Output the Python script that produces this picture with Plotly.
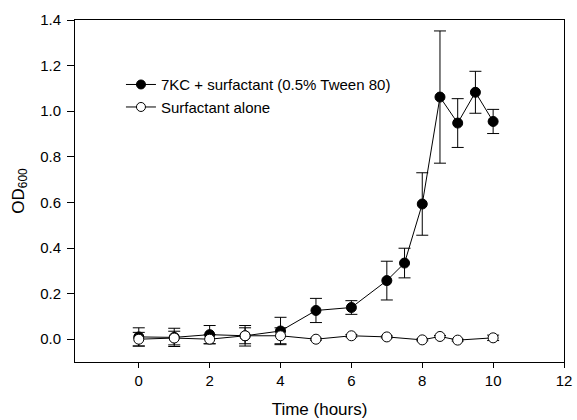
import plotly.graph_objects as go

time_kc = [0, 1, 2, 3, 4, 5, 6, 7, 7.5, 8, 8.5, 9, 9.5, 10]
od_kc = [0.01, 0.008, 0.02, 0.015, 0.036, 0.126, 0.139, 0.257, 0.334, 0.593, 1.062, 0.948, 1.083, 0.955]
err_kc = [0.04, 0.04, 0.04, 0.045, 0.06, 0.053, 0.03, 0.085, 0.065, 0.137, 0.29, 0.107, 0.092, 0.053]

time_s = [0, 1, 2, 3, 4, 5, 6, 7, 8, 8.5, 9, 10]
od_s = [0.0, 0.005, 0.0, 0.015, 0.015, 0.0, 0.015, 0.01, -0.003, 0.012, -0.004, 0.006]
err_s = [0.03, 0.03, 0.02, 0.035, 0.035, 0.004, 0.005, 0.004, 0.004, 0.004, 0.004, 0.012]

series_names = ["7KC + surfactant (0.5% Tween 80)", "Surfactant alone"]
x_ticks = [0, 2, 4, 6, 8, 10, 12]
y_ticks = [0.0, 0.2, 0.4, 0.6, 0.8, 1.0, 1.2, 1.4]

FONT = "Liberation Sans, Arial, Helvetica, sans-serif"

fig = go.Figure()
fig.add_trace(go.Scatter(
    x=time_kc, y=od_kc, mode="lines+markers", showlegend=False,
    line=dict(color="black", width=1),
    marker=dict(symbol="circle", size=10, color="black", line=dict(color="black", width=1)),
    error_y=dict(type="data", array=err_kc, visible=True, color="black", thickness=1, width=6),
))
fig.add_trace(go.Scatter(
    x=time_s, y=od_s, mode="lines+markers", showlegend=False,
    line=dict(color="black", width=1),
    marker=dict(symbol="circle", size=10, color="white", line=dict(color="black", width=1)),
    error_y=dict(type="data", array=err_s, visible=True, color="black", thickness=1, width=6),
))
# legend-only entries (no error bars in the legend symbol)
fig.add_trace(go.Scatter(
    x=[None], y=[None], mode="lines+markers", name=series_names[0],
    line=dict(color="black", width=1),
    marker=dict(symbol="circle", size=9, color="black", line=dict(color="black", width=1)),
))
fig.add_trace(go.Scatter(
    x=[None], y=[None], mode="lines+markers", name=series_names[1],
    line=dict(color="black", width=1),
    marker=dict(symbol="circle", size=9, color="white", line=dict(color="black", width=1)),
))

axis_common = dict(
    showline=True, linecolor="black", linewidth=1, mirror=True,
    ticks="outside", tickcolor="black", tickwidth=1,
    showgrid=False, zeroline=False, automargin=False,
    tickfont=dict(family=FONT, size=15, color="black"),
)

fig.update_layout(
    width=577, height=420,
    margin=dict(l=75, r=13, t=20, b=58),
    plot_bgcolor="white", paper_bgcolor="white",
    font=dict(family=FONT, size=15, color="black"),
    xaxis=dict(range=[-1.8, 12], tickvals=x_ticks, ticklen=5,
               title=dict(text="Time (hours)", standoff=15, font=dict(size=17)), **axis_common),
    yaxis=dict(range=[-0.1, 1.4], tickvals=y_ticks, tickformat=".1f", ticklen=7,
               ticklabelstandoff=3,
               title=dict(text="OD<sub>600</sub>", standoff=11, font=dict(size=17)), **axis_common),
    legend=dict(x=0.094, y=0.859, xanchor="left", yanchor="top",
                bgcolor="rgba(0,0,0,0)", borderwidth=0,
                font=dict(family=FONT, size=15), tracegroupgap=0),
    showlegend=True,
)

fig.write_html("out.html")
